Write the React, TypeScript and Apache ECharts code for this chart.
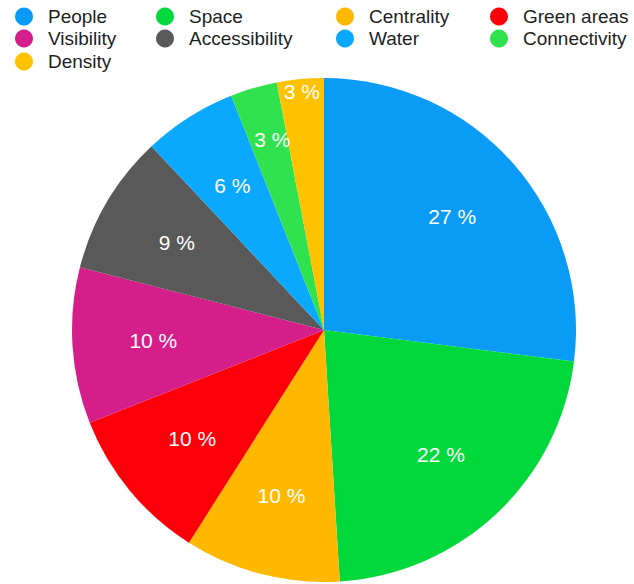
import React, { useEffect, useRef } from "react";
import * as echarts from "echarts";

const categories = ["People", "Space", "Centrality", "Green areas", "Visibility", "Accessibility", "Water", "Connectivity", "Density"];
const values = [27, 22, 10, 10, 10, 9, 6, 3, 3];
const colors = ["#0A9BF7", "#00D83C", "#FFB800", "#FC0009", "#D41E8A", "#595959", "#0AA9FE", "#30E24D", "#FFC200"];
// legend placement: [column x, row y]
const legendCols = [15, 156, 336, 490];
const legendRows = [7, 29, 52];
// small slices get their label pushed outward
const labelOffsets: Record<string, number[]> = {
  Connectivity: [-4, -26],
  Density: [-6, -68],
};

export default function App() {
  const ref = useRef<HTMLDivElement>(null);
  useEffect(() => {
    if (!ref.current) return;
    const chart = echarts.init(ref.current, null, { renderer: "svg" });
    const data = categories.map((name, i) => ({
      name,
      value: values[i],
      itemStyle: { color: colors[i] },
    }));
    const legendOrder = [
      ["People", 0, 0], ["Space", 1, 0], ["Centrality", 2, 0], ["Green areas", 3, 0],
      ["Visibility", 0, 1], ["Accessibility", 1, 1], ["Water", 2, 1], ["Connectivity", 3, 1],
      ["Density", 0, 2],
    ] as [string, number, number][];
    const legends = legendOrder.map(([name, c, r]) => ({
      left: legendCols[c],
      top: legendRows[r],
      orient: "horizontal",
      icon: "circle",
      itemWidth: 18,
      itemHeight: 18,
      padding: 0,
      selectedMode: false,
      data: [{ name, itemStyle: { color: colors[categories.indexOf(name)] } }],
      textStyle: {
        fontSize: 19,
        color: "#1e1e1e",
        fontFamily: "Liberation Sans, Arial, sans-serif",
        padding: [0, 0, 0, 10],
      },
    }));
    chart.setOption({
      animation: false,
      legend: legends,
      series: [
        {
          type: "pie",
          center: [324, 330],
          radius: [0, 252],
          startAngle: 90,
          clockwise: true,
          label: { show: false },
          labelLine: { show: false },
          emphasis: { disabled: true },
          data,
        },
        {
          type: "pie",
          center: [324, 330],
          radius: [84, 252],
          startAngle: 90,
          clockwise: true,
          silent: true,
          legendHoverLink: false,
          emphasis: { disabled: true },
          label: {
            show: true,
            position: "inside",
            formatter: (p: any) => p.value + " %",
            color: "#fff",
            fontSize: 21,
            fontFamily: "Liberation Sans, Arial, sans-serif",
          },
          labelLine: { show: false },
          data: categories.map((name, i) => ({
            name,
            value: values[i],
            itemStyle: { color: "rgba(0,0,0,0)" },
            label: labelOffsets[name] ? { offset: labelOffsets[name] } : undefined,
          })),
        },
      ],
    });
    return () => chart.dispose();
  }, []);
  return (
    <div
      ref={ref}
      style={{ position: "fixed", left: 0, top: 0, width: 634, height: 584, background: "#fff" }}
    />
  );
}
